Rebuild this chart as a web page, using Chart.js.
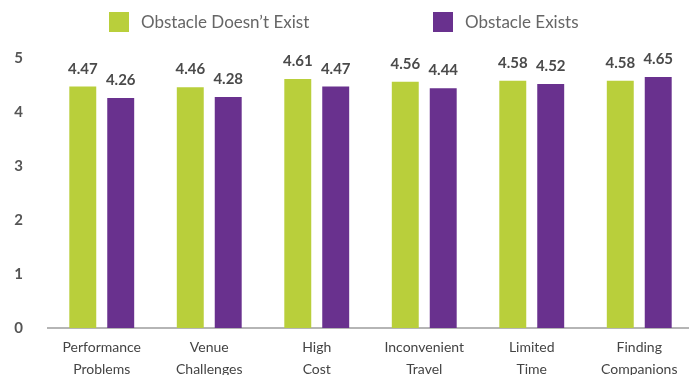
<!DOCTYPE html>
<html>
<head>
<meta charset="utf-8">
<script src="https://cdn.jsdelivr.net/npm/chart.js@4"></script>
<style>
  html, body { margin: 0; padding: 0; background: #fff; overflow: hidden; }
  #wrap { position: relative; width: 693px; height: 375px; }
  .leg { position: absolute; top: 11px; display: flex; align-items: center; font-family: Lato, "Open Sans", sans-serif; font-size: 17px; color: #666; }
  .leg span.box { width: 20px; height: 20px; display: inline-block; margin-right: 12px; }
</style>
</head>
<body>
<div id="wrap">
  <canvas id="grafico" width="693" height="375"></canvas>
  <div class="leg" style="left:109px"><span class="box" style="background:#b9cf3b"></span>Obstacle Doesn’t Exist</div>
  <div class="leg" style="left:433px"><span class="box" style="background:#69318e"></span>Obstacle Exists</div>
</div>
<script>
// Dados do gráfico
const categorias = [
  ['Performance', 'Problems'],
  ['Venue', 'Challenges'],
  ['High', 'Cost'],
  ['Inconvenient', 'Travel'],
  ['Limited', 'Time'],
  ['Finding', 'Companions']
];
const semObstaculo = [4.47, 4.46, 4.61, 4.56, 4.58, 4.58];
const comObstaculo = [4.26, 4.28, 4.47, 4.44, 4.52, 4.65];
const nomesSeries = ['Obstacle Doesn’t Exist', 'Obstacle Exists'];
const ticksY = [0, 1, 2, 3, 4, 5];

/**
 * Escreve o valor acima de cada barra
 */
const rotulosValores = {
  id: 'rotulosValores',
  afterDatasetsDraw(chart) {
    const ctx = chart.ctx;
    ctx.save();
    ctx.font = 'bold 15px Lato, "Open Sans", sans-serif';
    ctx.fillStyle = '#4a4a4a';
    ctx.textAlign = 'center';
    ctx.textBaseline = 'alphabetic';
    chart.data.datasets.forEach((ds, i) => {
      chart.getDatasetMeta(i).data.forEach((bar, j) => {
        ctx.fillText(ds.data[j].toFixed(2), bar.x, bar.y - 13);
      });
    });
    ctx.restore();
  }
};

new Chart(document.getElementById('grafico'), {
  type: 'bar',
  data: {
    labels: categorias,
    datasets: [
      { label: nomesSeries[0], data: semObstaculo, backgroundColor: '#b9cf3b' },
      { label: nomesSeries[1], data: comObstaculo, backgroundColor: '#69318e' }
    ]
  },
  options: {
    responsive: false,
    animation: false,
    layout: { padding: { top: 58, right: 0, left: 0, bottom: 0 } },
    datasets: { bar: { categoryPercentage: 0.706, barPercentage: 0.71 } },
    plugins: { legend: { display: false }, tooltip: { enabled: false } },
    scales: {
      y: {
        min: 0,
        max: 5,
        afterFit(scale) { scale.width = 48; },
        afterBuildTicks(scale) { scale.ticks = ticksY.map(v => ({ value: v })); },
        grid: { display: false, drawTicks: false },
        border: { display: false },
        ticks: {
          padding: 25,
          color: '#555',
          font: { family: 'Lato, "Open Sans", sans-serif', size: 15, weight: 'bold' }
        }
      },
      x: {
        afterFit(scale) { scale.height = 47; },
        grid: { display: false, drawTicks: false },
        border: { display: true, color: '#b5b5b5', width: 2 },
        ticks: {
          padding: 8,
          maxRotation: 0,
          autoSkip: false,
          color: '#444',
          font: { family: 'Lato, "Open Sans", sans-serif', size: 14, lineHeight: 1.6 }
        }
      }
    }
  },
  plugins: [rotulosValores]
});
</script>
</body>
</html>
